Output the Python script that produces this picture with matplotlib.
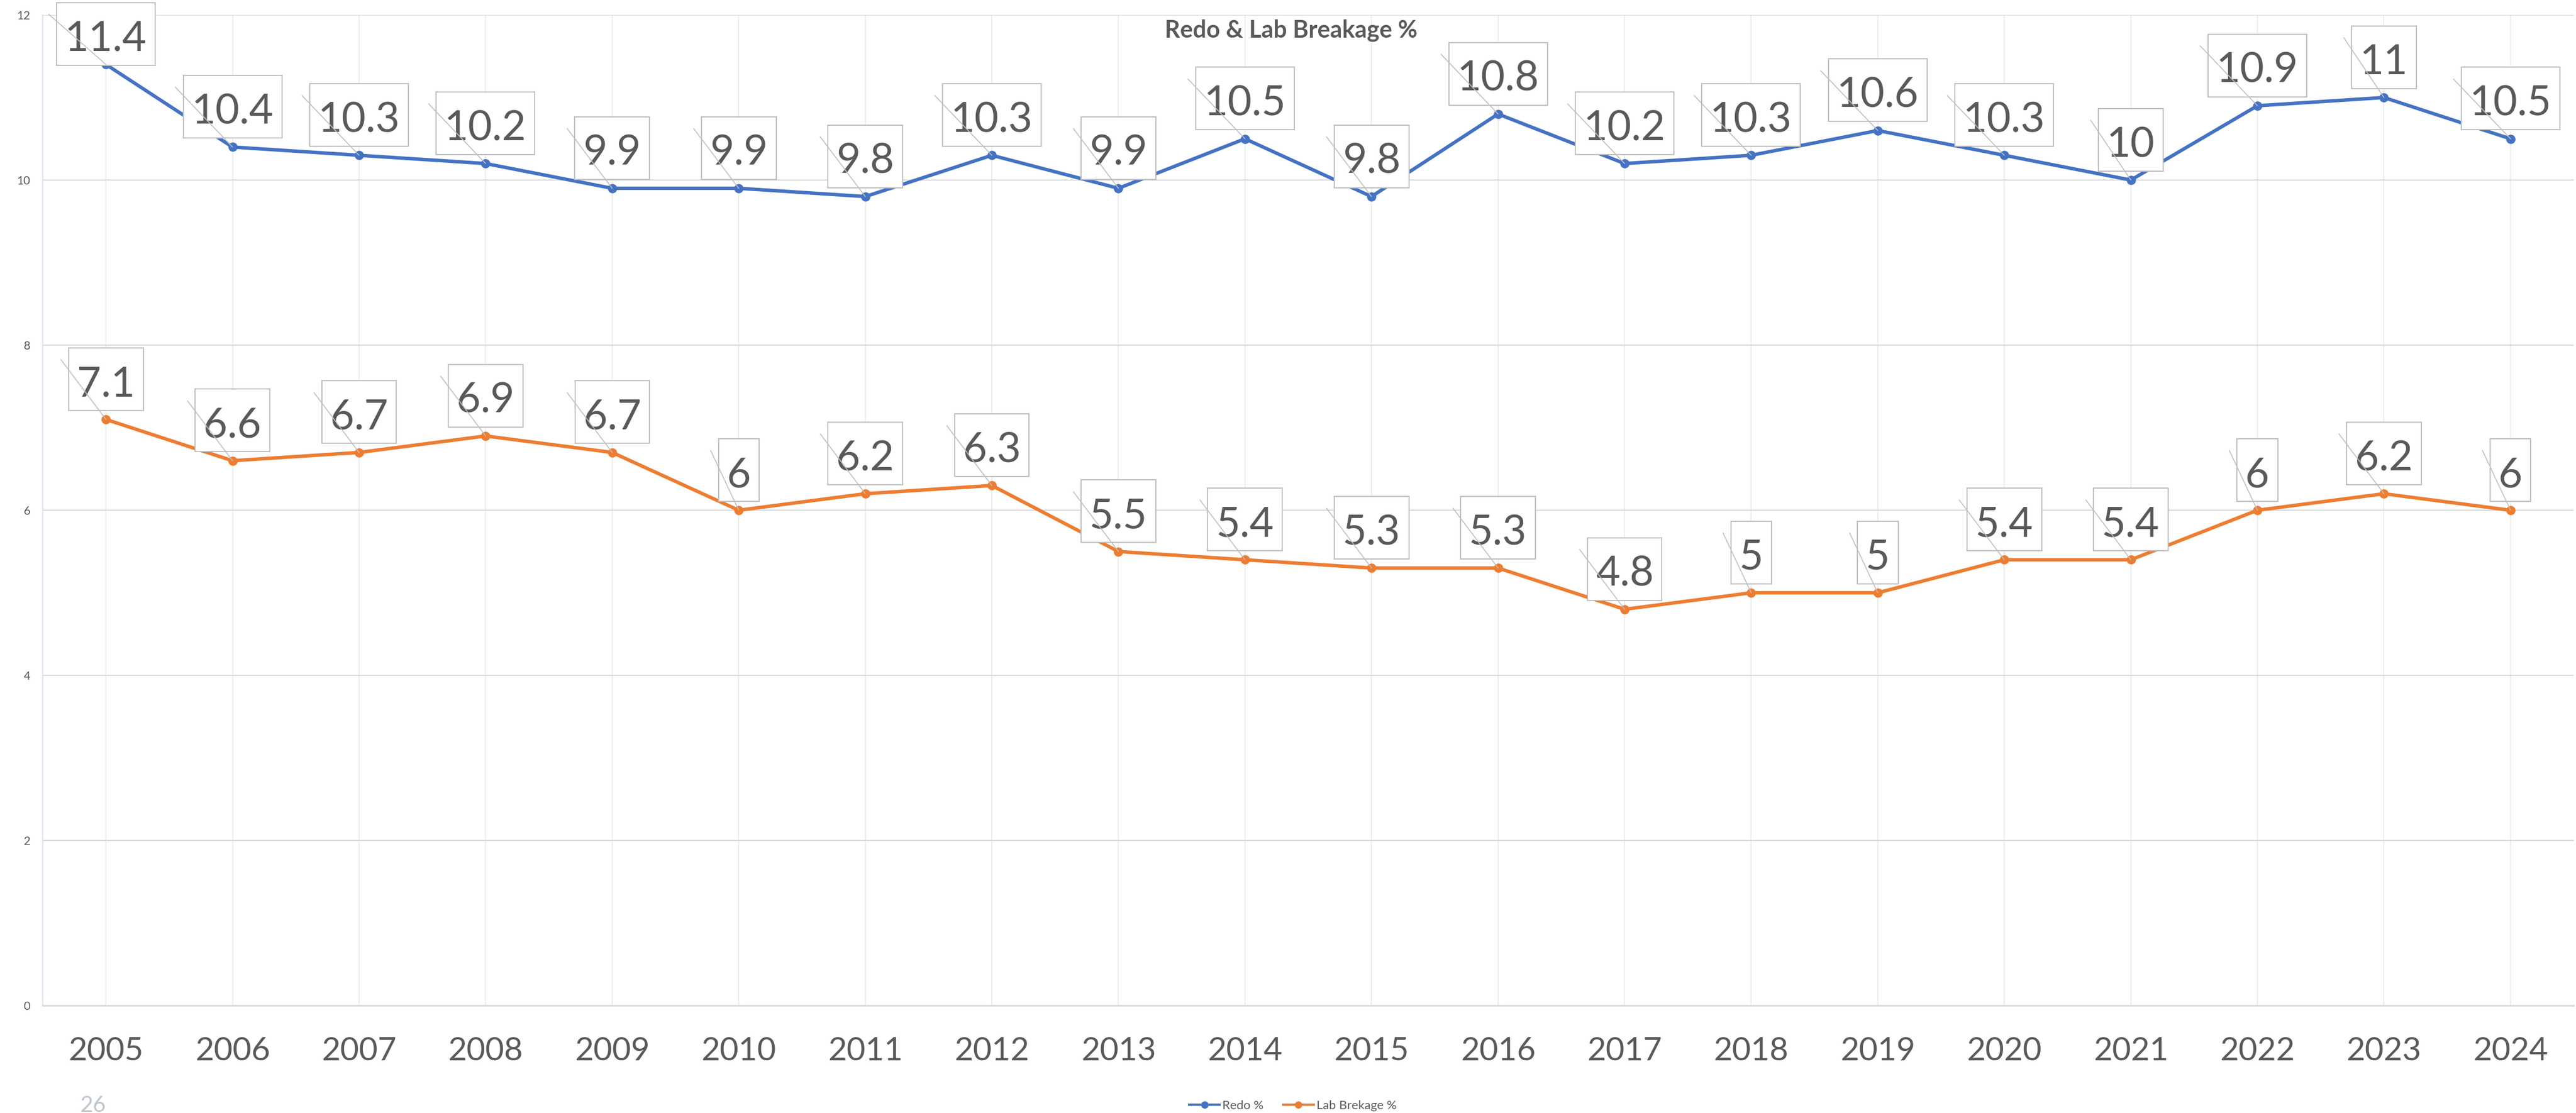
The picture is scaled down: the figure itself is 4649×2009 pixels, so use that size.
import matplotlib
matplotlib.use('Agg')
import matplotlib.pyplot as plt
from matplotlib.path import Path
from matplotlib.text import OffsetFrom
from matplotlib.lines import Line2D


#(0) Data:
years        = ['2005', '2006', '2007', '2008', '2009', '2010', '2011', '2012', '2013', '2014',
                '2015', '2016', '2017', '2018', '2019', '2020', '2021', '2022', '2023', '2024']
redo         = [11.4, 10.4, 10.3, 10.2, 9.9, 9.9, 9.8, 10.3, 9.9, 10.5,
                9.8, 10.8, 10.2, 10.3, 10.6, 10.3, 10, 10.9, 11, 10.5]
lab_breakage = [7.1, 6.6, 6.7, 6.9, 6.7, 6, 6.2, 6.3, 5.5, 5.4,
                5.3, 5.3, 4.8, 5, 5, 5.4, 5.4, 6, 6.2, 6]
series_names = ['Redo %', 'Lab Brekage %']
yticks       = [0, 2, 4, 6, 8, 10, 12]


plt.rcParams['font.family'] = ['Lato', 'DejaVu Sans']
TXT    = '#595959'
BLUE   = '#4472C4'
ORANGE = '#ED7D31'
BOXEC  = '#BFBFBF'


def label_box(x0, y0, width, height, mutation_size):
    # pixels: 15 at the sides, box always 113 tall with the digits sitting low
    below = 27 - 0.19 * mutation_size
    x0, x1 = x0 - 15, x0 + width + 15
    y0, y1 = y0 - below, y0 - below + 113
    return Path([(x0, y0), (x1, y0), (x1, y1), (x0, y1), (x0, y0)], closed=True)


def add_labels(ax, values):
    fig_h = ax.figure.bbox.height
    for i, v in enumerate(values):
        # like Excel, push a label down if its box would leave the chart at the top
        ypix = ax.transData.transform((i, v))[1]
        dy   = min(29, fig_h - 5 - 100 - ypix)
        t = ax.annotate(f'{v:g}', xy=(i, v), xytext=(0, dy), textcoords='offset pixels',
                        ha='center', va='bottom', fontsize=54, color=TXT, zorder=5,
                        bbox=dict(boxstyle=label_box, fc='white', ec=BOXEC, lw=1.5))
        # leader line from the point up-left, past the box corner
        ax.annotate('', xy=(i, v), xytext=(-29, 79),
                    textcoords=OffsetFrom(t, (0, 0), unit='pixels'),
                    arrowprops=dict(arrowstyle='-', color=BOXEC, lw=1.2,
                                    shrinkA=0, shrinkB=0), zorder=6)


#(1) Plot:
plt.close('all')
fig = plt.figure(figsize=(46.49, 20.09), dpi=100)
ax  = fig.add_axes((77/4649, 194/2009, 4568/4649, 1788/2009))
x   = list(range(len(years)))

ax.plot(x, redo, color=BLUE, lw=4.5, marker='o', ms=11, zorder=3)
ax.plot(x, lab_breakage, color=ORANGE, lw=4.5, marker='o', ms=11, zorder=3)

ax.set_xlim(-0.5, len(years) - 0.5)
ax.set_ylim(0, 12)
add_labels(ax, redo)
add_labels(ax, lab_breakage)

ax.set_xticks(x, years)
ax.set_yticks(yticks)
ax.tick_params(axis='x', length=0, pad=40, labelsize=42, labelcolor=TXT)
ax.tick_params(axis='y', length=0, pad=16, labelsize=15, labelcolor=TXT)
ax.yaxis.grid(True, color='#D9D9D9', lw=1.5)
ax.xaxis.grid(True, color='#EDEDED', lw=1.5)
ax.set_axisbelow(True)
for s in ['top', 'right']:
    ax.spines[s].set_visible(False)
ax.spines['bottom'].set_color('#D9D9D9')
ax.spines['bottom'].set_linewidth(2)
ax.spines['left'].set_color('#DAE3F3')
ax.spines['left'].set_linewidth(1.5)

fig.text(2330/4649, 1 - 55/2009, 'Redo & Lab Breakage %', ha='center', va='center',
         fontsize=31, fontweight='bold', color=TXT)

handles = [Line2D([], [], color=c, lw=3, marker='o', ms=8.5) for c in (BLUE, ORANGE)]
fig.legend(handles, series_names, loc='center', bbox_to_anchor=(2333/4649, 13/2009), ncol=2,
           frameon=False, fontsize=16, labelcolor=TXT, handlelength=2.5,
           handletextpad=0.2, columnspacing=1.6)

fig.text(168/4649, 1 - 1977/2009, '26', ha='center', va='top', fontsize=29, color='#C0C6CC')

fig.savefig('out.png', dpi=100)
